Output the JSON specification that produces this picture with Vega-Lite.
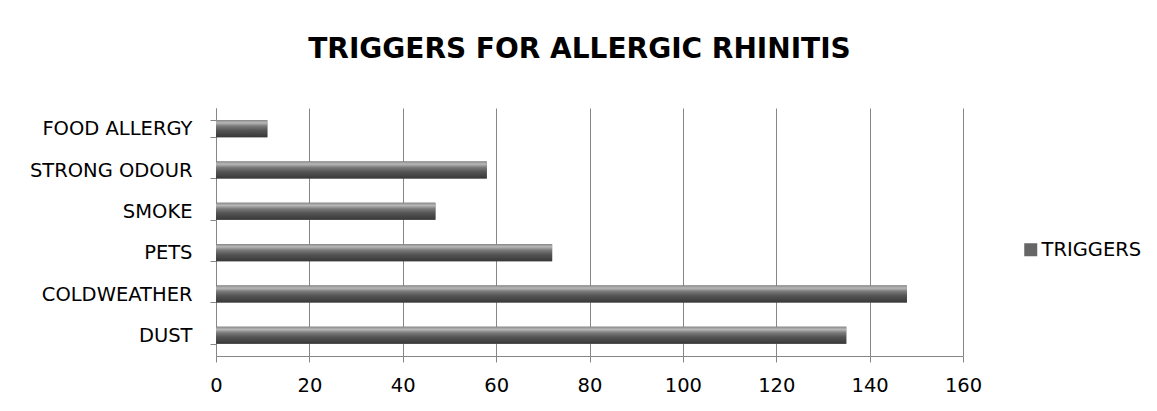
{
  "$schema": "https://vega.github.io/schema/vega-lite/v6.json",
  "autosize": "none",
  "width": 747,
  "height": 248,
  "padding": {"left": 216, "top": 108, "right": 194, "bottom": 55},
  "background": "white",
  "title": {
    "text": "TRIGGERS FOR ALLERGIC RHINITIS",
    "font": "DejaVu Sans",
    "fontSize": 28,
    "fontWeight": "bold",
    "color": "#000000",
    "anchor": "middle",
    "frame": "group",
    "dx": -10,
    "offset": 34
  },
  "data": {
    "values": [
      {"trigger": "FOOD ALLERGY", "count": 11, "series": "TRIGGERS"},
      {"trigger": "STRONG ODOUR", "count": 58, "series": "TRIGGERS"},
      {"trigger": "SMOKE", "count": 47, "series": "TRIGGERS"},
      {"trigger": "PETS", "count": 72, "series": "TRIGGERS"},
      {"trigger": "COLDWEATHER", "count": 148, "series": "TRIGGERS"},
      {"trigger": "DUST", "count": 135, "series": "TRIGGERS"}
    ]
  },
  "encoding": {
    "y": {
      "field": "trigger",
      "type": "nominal",
      "sort": null,
      "title": null,
      "scale": {"paddingInner": 0.59, "paddingOuter": 0.295},
      "axis": {
        "tickBand": "extent",
        "domainColor": "#868686",
        "tickColor": "#868686",
        "tickSize": 6,
        "labelFont": "DejaVu Sans",
        "labelFontSize": 19.5,
        "labelColor": "#000000",
        "labelPadding": 18,
        "grid": false
      }
    },
    "x": {
      "field": "count",
      "type": "quantitative",
      "title": null,
      "scale": {"domain": [0, 160], "nice": false},
      "axis": {
        "values": [0, 20, 40, 60, 80, 100, 120, 140, 160],
        "grid": true,
        "gridColor": "#868686",
        "gridOpacity": 1,
        "domainColor": "#868686",
        "tickColor": "#868686",
        "tickSize": 6,
        "labelFont": "DejaVu Sans",
        "labelFontSize": 19.5,
        "labelColor": "#000000",
        "labelPadding": 14,
        "labelFlush": false
      }
    }
  },
  "layer": [
    {
      "mark": {"type": "bar"},
      "encoding": {
        "fill": {
          "field": "series",
          "type": "nominal",
          "scale": {"range": ["#666666"]},
          "legend": {
            "title": null,
            "orient": "none",
            "legendX": 805,
            "legendY": 132,
            "symbolType": "square",
            "symbolSize": 169,
            "symbolStrokeWidth": 0,
            "labelFont": "DejaVu Sans",
            "labelFontSize": 19.5,
            "labelColor": "#000000",
            "labelOffset": 1
          }
        }
      }
    },
    {
      "mark": {
        "type": "bar",
        "color": {
          "gradient": "linear",
          "x1": 0, "y1": 0, "x2": 0, "y2": 1,
          "stops": [
            {"offset": 0, "color": "#8a8a8a"},
            {"offset": 0.15, "color": "#b8b8b8"},
            {"offset": 0.35, "color": "#7a7a7a"},
            {"offset": 0.6, "color": "#555555"},
            {"offset": 1, "color": "#383838"}
          ]
        }
      }
    }
  ],
  "config": {
    "view": {"stroke": null}
  }
}
